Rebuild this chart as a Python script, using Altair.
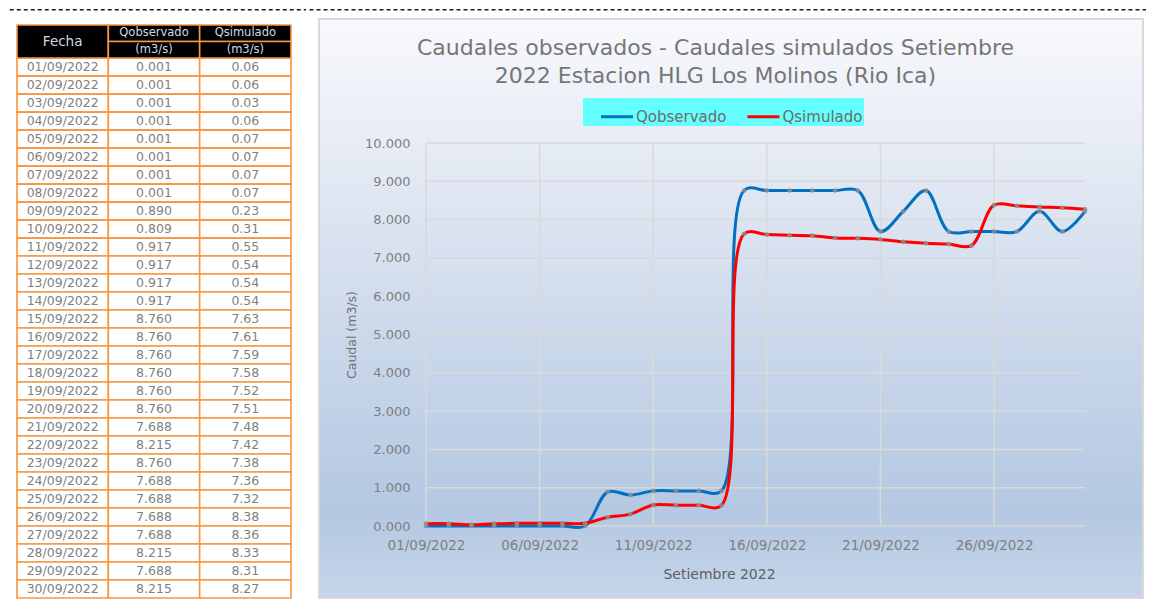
import altair as alt
import pandas as pd

# ---------------- data ----------------
fechas = ["01/09/2022", "02/09/2022", "03/09/2022", "04/09/2022", "05/09/2022",
          "06/09/2022", "07/09/2022", "08/09/2022", "09/09/2022", "10/09/2022",
          "11/09/2022", "12/09/2022", "13/09/2022", "14/09/2022", "15/09/2022",
          "16/09/2022", "17/09/2022", "18/09/2022", "19/09/2022", "20/09/2022",
          "21/09/2022", "22/09/2022", "23/09/2022", "24/09/2022", "25/09/2022",
          "26/09/2022", "27/09/2022", "28/09/2022", "29/09/2022", "30/09/2022"]
qobservado = [0.001, 0.001, 0.001, 0.001, 0.001, 0.001, 0.001, 0.001, 0.890, 0.809,
              0.917, 0.917, 0.917, 0.917, 8.760, 8.760, 8.760, 8.760, 8.760, 8.760,
              7.688, 8.215, 8.760, 7.688, 7.688, 7.688, 7.688, 8.215, 7.688, 8.215]
qsimulado = [0.06, 0.06, 0.03, 0.06, 0.07, 0.07, 0.07, 0.07, 0.23, 0.31,
             0.55, 0.54, 0.54, 0.54, 7.63, 7.61, 7.59, 7.58, 7.52, 7.51,
             7.48, 7.42, 7.38, 7.36, 7.32, 8.38, 8.36, 8.33, 8.31, 8.27]
series = ["Qobservado", "Qsimulado"]
colores = ["#0070c0", "#ff0000"]
header_names = ["Fecha", "Qobservado", "Qsimulado"]
header_unit = "(m3/s)"
x_ticks = ["01/09/2022", "06/09/2022", "11/09/2022", "16/09/2022", "21/09/2022", "26/09/2022"]
y_ticks = [0, 1, 2, 3, 4, 5, 6, 7, 8, 9, 10]
titulo = ["Caudales observados - Caudales simulados Setiembre",
          "2022 Estacion HLG Los Molinos (Rio Ica)"]
x_title = "Setiembre 2022"
y_title = "Caudal (m3/s)"

FONT = "DejaVu Sans"
ORANGE = "#f79646"
HR = 0.92  # header row height, in data-row units


def dt(s):
    d, m, y = s.split("/")
    return alt.DateTime(year=int(y), month=int(m), date=int(d))


one = pd.DataFrame({"k": [0]})

# ---------------- table ----------------
cells = []
for i, (f, qo, qs) in enumerate(zip(fechas, qobservado, qsimulado)):
    for c, txt in enumerate([f, f"{qo:.3f}", f"{qs:.2f}"]):
        cells.append({"c0": c, "c1": c + 1, "r0": i, "r1": i + 1, "txt": txt})
cells_df = pd.DataFrame(cells)

head = [{"c0": 0, "c1": 1, "r0": -2 * HR, "r1": 0, "txt": header_names[0], "fs": 13.5}]
for c, name in enumerate(header_names[1:], start=1):
    head.append({"c0": c, "c1": c + 1, "r0": -2 * HR, "r1": -HR, "txt": name, "fs": 11.5})
    head.append({"c0": c, "c1": c + 1, "r0": -HR, "r1": 0, "txt": header_unit, "fs": 11.5})
head_df = pd.DataFrame(head)

xs_t = alt.Scale(domain=[0, 3], nice=False, zero=False)
# the table's top sits above the row origin shared with the line chart's plot
ys_t = alt.Scale(domain=[-2 * HR, len(fechas)], range=[-118, 455], nice=False, zero=False)


def rect_layer(df, fill):
    return alt.Chart(df).mark_rect(fill=fill, stroke=ORANGE, strokeWidth=1.6).encode(
        x=alt.X("c0:Q", scale=xs_t, axis=None),
        x2="c1:Q",
        y=alt.Y("r0:Q", scale=ys_t, axis=None),
        y2="r1:Q",
    )


def text_layer(df, color, size=None):
    base = alt.Chart(df).transform_calculate(
        cx="(datum.c0 + datum.c1) / 2", cy="(datum.r0 + datum.r1) / 2"
    )
    enc = dict(
        x=alt.X("cx:Q", scale=xs_t, axis=None),
        y=alt.Y("cy:Q", scale=ys_t, axis=None),
        text="txt:N",
    )
    if size is None:
        enc["size"] = alt.Size("fs:Q", scale=None, legend=None)
        return base.mark_text(font=FONT, color=color, baseline="middle").encode(**enc)
    return base.mark_text(font=FONT, color=color, fontSize=size, baseline="middle").encode(**enc)


dash_t = alt.Chart(one).mark_rule(color="#1a1a1a", strokeWidth=1.5, strokeDash=[4, 3]).encode(
    x=alt.value(-7.25), x2=alt.value(289), y=alt.value(-133.25)
)

table = alt.layer(
    dash_t,
    rect_layer(cells_df, "white"),
    text_layer(cells_df, "#7f7f7f", 12.5),
    rect_layer(head_df, "black"),
    text_layer(head_df, "#d3d8e0"),
).properties(width=274, height=455)

# ---------------- line chart ----------------
long = pd.DataFrame({
    "Fecha": pd.to_datetime(fechas * 2, format="%d/%m/%Y"),
    "Serie": [series[0]] * len(fechas) + [series[1]] * len(fechas),
    "Caudal": qobservado + qsimulado,
})
hgrid = pd.DataFrame({"v": y_ticks})
vgrid = pd.DataFrame({"d": pd.to_datetime(x_ticks, format="%d/%m/%Y")})

W, H = 659, 383
x_scale = alt.Scale(domain=[dt(fechas[0]), dt(fechas[-1])])
y_scale = alt.Scale(domain=[0, 10], nice=False, zero=True)

grad = alt.Gradient(
    gradient="linear", x1=0, x2=0, y1=0, y2=1,
    stops=[
        alt.GradientStop(color="#f8f9fc", offset=0),
        alt.GradientStop(color="#e4eaf4", offset=0.25),
        alt.GradientStop(color="#cbd8ea", offset=0.55),
        alt.GradientStop(color="#b4c8e2", offset=0.85),
        alt.GradientStop(color="#c6d5e9", offset=1),
    ],
)

panel = alt.Chart(one).mark_rect(fill=grad, stroke="#d9d9d9", strokeWidth=2).encode(
    x=alt.value(-107), x2=alt.value(717), y=alt.value(-124), y2=alt.value(455)
)
dash_l = alt.Chart(one).mark_rule(color="#1a1a1a", strokeWidth=1.5, strokeDash=[4, 3]).encode(
    x=alt.value(-116.5), x2=alt.value(720), y=alt.value(-133.25)
)

x_axis = alt.Axis(
    values=[dt(s) for s in x_ticks], format="%d/%m/%Y",
    grid=False, domain=False, ticks=False, tickSize=0,
    labelFont=FONT, labelFontSize=13.5, labelColor="#7f7f7f", labelPadding=12,
    labelFlush=False, labelOverlap=False,
    title=x_title, titleFont=FONT, titleFontSize=14, titleFontWeight="normal",
    titleColor="#5f5f5f", titleX=293, titleY=48, titleBaseline="middle", titleAlign="center",
    zindex=1,
)
y_axis = alt.Axis(
    values=y_ticks, format=".3f",
    grid=False, domain=False, ticks=False, tickSize=0,
    labelFont=FONT, labelFontSize=13, labelColor="#7f7f7f", labelPadding=16,
    labelFlush=False, labelOverlap=False,
    title=y_title, titleFont=FONT, titleFontSize=12.5, titleFontWeight="normal",
    titleColor="#6f6f6f", titleAngle=270, titleX=-75, titleY=H / 2,
    titleBaseline="middle", titleAlign="center",
    zindex=1,
)

grid_h = alt.Chart(hgrid).mark_rule(color="#d9d9d9", strokeWidth=1.5).encode(
    y=alt.Y("v:Q", scale=y_scale, axis=y_axis)
)
grid_v = alt.Chart(vgrid).mark_rule(color="#d9d9d9", strokeWidth=1.5).encode(
    x=alt.X("d:T", scale=x_scale, axis=x_axis)
)

legend = alt.Legend(
    title=None, orient="none", legendX=566, legendY=-45, direction="horizontal", columns=2,
    fillColor="#66ffff", padding=1, symbolType="stroke", symbolSize=1024,
    symbolStrokeWidth=3, symbolOffset=15.5, labelOffset=1.5, columnPadding=3.5,
    labelFont=FONT, labelFontSize=15, labelColor="#6b6b6b", zindex=1,
)

lines = alt.Chart(long).mark_line(interpolate="catmull-rom", strokeWidth=3).encode(
    x=alt.X("Fecha:T", scale=x_scale, axis=x_axis),
    y=alt.Y("Caudal:Q", scale=y_scale, axis=y_axis),
    color=alt.Color("Serie:N", scale=alt.Scale(domain=series, range=colores), legend=legend),
)
points = alt.Chart(long).mark_circle(size=22, color="#8e8e8e", opacity=0.85).encode(
    x=alt.X("Fecha:T", scale=x_scale, axis=x_axis),
    y=alt.Y("Caudal:Q", scale=y_scale, axis=y_axis),
)

linechart = alt.layer(panel, dash_l, grid_h, grid_v, lines, points).properties(
    width=W, height=H,
    title=alt.TitleParams(
        text=titulo, font=FONT, fontSize=22, fontWeight="normal", color="#767676",
        lineHeight=28, anchor="middle", frame="group", dx=-40, baseline="top",
        offset=-79, zindex=1,
    ),
)

chart = alt.hconcat(table, linechart, spacing=0).properties(
    padding=0, background="white"
).configure_view(stroke="transparent")

chart.save("out.html", embed_options={"renderer": "svg", "actions": False})
